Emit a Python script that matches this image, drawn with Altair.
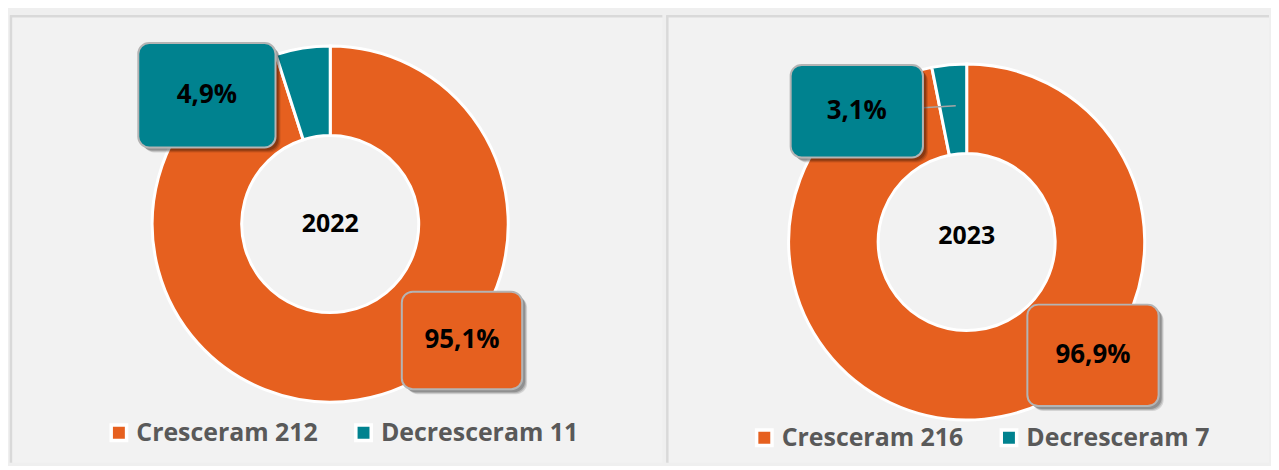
import altair as alt
import pandas as pd

# ---- data ----
years = ["2022", "2023"]
categories = ["Cresceram", "Decresceram"]
counts_2022 = [212, 11]
counts_2023 = [216, 7]
pct_labels_2022 = ["95,1%", "4,9%"]
pct_labels_2023 = ["96,9%", "3,1%"]

ORANGE = "#E6601F"
TEAL = "#00828F"
FONT = "Open Sans"

PANEL_H = 450
OUTER_R = 179
INNER_R = 89


def make_df(counts, labels):
    return pd.DataFrame({
        "cat": categories,
        "value": counts,
        "order": [0, 1],
        "legend": [f"{c} {n}" for c, n in zip(categories, counts)],
        "pct": labels,
    })


def panel(df, year, width, cx, cy, text_dy, boxes, legend_x, legend_y, col_pad, connector=None):
    base = alt.Chart(df)
    arc = base.mark_arc(
        outerRadius=OUTER_R, innerRadius=INNER_R, stroke="white", strokeWidth=3
    ).encode(
        theta=alt.Theta("value:Q", stack=True),
        order=alt.Order("order:Q"),
        color=alt.Color(
            "legend:N",
            scale=alt.Scale(domain=list(df["legend"]), range=[ORANGE, TEAL]),
            legend=alt.Legend(
                title=None, orient="none", legendX=legend_x, legendY=legend_y,
                direction="horizontal", symbolType="square", symbolSize=240,
                symbolStrokeColor="white", symbolStrokeWidth=3.5,
                labelFontSize=25, labelFont=FONT, labelFontWeight="bold",
                labelColor="#595959", columnPadding=col_pad, labelOffset=5,
                labelLimit=400, symbolOpacity=1,
            ),
        ),
        x=alt.value(cx), y=alt.value(cy),
    )
    center = alt.Chart(pd.DataFrame({"t": [year]})).mark_text(
        font=FONT, fontSize=25, fontWeight="bold", color="black"
    ).encode(text="t:N", x=alt.value(cx), y=alt.value(cy + text_dy))

    layers = [arc, center]
    if connector is not None:
        x1, y1, x2, y2 = connector
        layers.append(
            alt.Chart(df.iloc[[0]]).mark_rule(color="#a6a6a6", strokeWidth=1.5).encode(
                x=alt.value(x1), y=alt.value(y1), x2=alt.value(x2), y2=alt.value(y2)
            )
        )
    for i, (bx0, by0, bx1, by1) in enumerate(boxes):
        row = df.iloc[[i]]
        color = ORANGE if i == 0 else TEAL
        for off, op in [(5, 0.12), (4, 0.15), (3, 0.2)]:
            layers.append(
                alt.Chart(row).mark_rect(cornerRadius=11, color="black", opacity=op).encode(
                    x=alt.value(bx0 + off), x2=alt.value(bx1 + off),
                    y=alt.value(by0 + off), y2=alt.value(by1 + off),
                )
            )
        layers.append(
            alt.Chart(row).mark_rect(
                cornerRadius=11, fill=color, stroke="#b4b4b4", strokeWidth=2
            ).encode(
                x=alt.value(bx0), x2=alt.value(bx1), y=alt.value(by0), y2=alt.value(by1)
            )
        )
        layers.append(
            alt.Chart(row).mark_text(
                font=FONT, fontSize=26, fontWeight="bold", color="black"
            ).encode(
                text="pct:N", x=alt.value((bx0 + bx1) / 2), y=alt.value((by0 + by1) / 2)
            )
        )
    # panel borders (top and left)
    border = pd.DataFrame({"k": [0]})
    layers.append(alt.Chart(border).mark_rule(color="#d9d9d9", strokeWidth=2.5).encode(
        x=alt.value(0), x2=alt.value(width), y=alt.value(1), y2=alt.value(1)))
    layers.append(alt.Chart(border).mark_rule(color="#d9d9d9", strokeWidth=2.5).encode(
        x=alt.value(1), x2=alt.value(1), y=alt.value(0), y2=alt.value(PANEL_H)))
    return alt.layer(*layers).properties(width=width, height=PANEL_H)


left = panel(
    make_df(counts_2022, pct_labels_2022), years[0], 656, 322, 210, 0,
    boxes=[(394, 278, 515, 376), (129, 28, 267, 133)],
    legend_x=97, legend_y=407, col_pad=30,
)
right = panel(
    make_df(counts_2023, pct_labels_2023), years[1], 606, 302, 228, -6,
    boxes=[(363, 291, 495, 393), (125, 50, 258, 143)],
    legend_x=86, legend_y=412, col_pad=30,
    connector=(258, 93, 291, 91),
)

chart = alt.hconcat(left, right, spacing=0).resolve_scale(
    color="independent", theta="independent"
).resolve_legend(color="independent").properties(
    padding={"left": 0, "top": 4, "right": 0, "bottom": 0},
    background="#efefef",
).configure_view(stroke=None, fill="#f2f2f2")

chart.save("out.html", embed_options={"renderer": "svg", "actions": False})
